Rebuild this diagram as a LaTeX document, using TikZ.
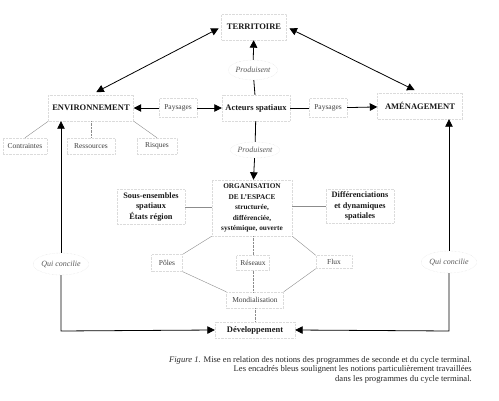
\documentclass[tikz,border=0pt]{standalone}
\usepackage{fontspec}
\setmainfont{Liberation Serif}
\usetikzlibrary{arrows.meta,shapes.geometric}

\begin{document}
\begin{tikzpicture}[x=1pt,y=-1pt,font=\fontsize{8.5}{10.5}\selectfont,
 cadre/.style={draw=black!14,densely dotted,inner sep=1pt,font=\fontsize{8.5}{10.5}\selectfont\bfseries,text=black!90},
 petit/.style={draw=black!14,densely dotted,inner sep=1pt,font=\fontsize{7.5}{9}\selectfont,text=black!75},
 bulle/.style={ellipse,draw=black!14,densely dotted,inner sep=0pt,font=\fontsize{8}{9}\selectfont\itshape,text=black!65},
 fleche/.style={line width=.8pt,-{Triangle[length=7.5pt,width=7.5pt]}},
 dfleche/.style={line width=.8pt,{Triangle[length=7.5pt,width=7.5pt]}-{Triangle[length=7.5pt,width=7.5pt]}},
 trait/.style={line width=.8pt},
 fin/.style={black!45,line width=.4pt}]
 \useasboundingbox (0,0) rectangle (499,401);
 % notions principales
 \node[cadre,minimum width=65,minimum height=26] (terr) at (254,27) {TERRITOIRE};
 \node[cadre,minimum width=68,minimum height=26] (act) at (256,108) {Acteurs spatiaux};
 \node[cadre,minimum width=85,minimum height=26] (env) at (91,108) {ENVIRONNEMENT};
 \node[cadre,minimum width=85,minimum height=26] (amen) at (420,106) {AMÉNAGEMENT};
 \node[cadre,minimum width=80,minimum height=56,align=center,font=\fontsize{7.3}{10.5}\selectfont\bfseries] (org) at (252,208)
  {ORGANISATION\\DE L’ESPACE\\structurée,\\différenciée,\\systémique, ouverte};
 \node[cadre,minimum width=68,minimum height=35,align=center,font=\fontsize{8.3}{10.5}\selectfont\bfseries] (sous) at (151,207) {Sous-ensembles\\spatiaux\\États région};
 \node[cadre,minimum width=68,minimum height=34,align=center,font=\fontsize{8.3}{10.5}\selectfont\bfseries] (diff) at (360,206) {Différenciations\\et dynamiques\\spatiales};
 \node[cadre,minimum width=80,minimum height=16] (dev) at (255,330) {Développement};
 % notions secondaires
 \node[petit,minimum width=38,minimum height=19] (pay1) at (178,108) {Paysages};
 \node[petit,minimum width=38,minimum height=19] (pay2) at (328,108) {Paysages};
 \node[petit,minimum width=44,minimum height=16] (contr) at (25,146) {Contraintes};
 \node[petit,minimum width=48,minimum height=16] (ress) at (91,146) {Ressources};
 \node[petit,minimum width=40,minimum height=16] (risq) at (157,146) {Risques};
 \node[petit,minimum width=31,minimum height=17] (pol) at (167,263) {Pôles};
 \node[petit,minimum width=33,minimum height=15] (res) at (253,263) {Réseaux};
 \node[petit,minimum width=36,minimum height=13] (flux) at (334,262) {Flux};
 \node[petit,minimum width=57,minimum height=16] (mon) at (255,300) {Mondialisation};
 \node[bulle,minimum width=48,minimum height=20] (prod1) at (253,70) {Produisent};
 \node[bulle,minimum width=46,minimum height=16] (prod2) at (255,150) {Produisent};
 \node[bulle,minimum width=46,minimum height=22] (qui1) at (61,264) {Qui concilie};
 \node[bulle,minimum width=48,minimum height=22] (qui2) at (449,262) {Qui concilie};
 \coordinate (coinG) at (61,331); \coordinate (coinD) at (449,331);
 % liens
 \draw[dfleche,shorten <=3pt,shorten >=6pt] (terr.west) -- (env.north);
 \draw[dfleche,shorten <=3pt,shorten >=6pt] (terr.east) -- (amen.north);
 \draw[fleche] (prod1) -- (terr); \draw[trait] (act) -- (prod1);
 \draw[trait] (act) -- (prod2); \draw[fleche] (prod2) -- (org);
 \draw[fleche] (pay1) -- (env); \draw[fleche] (pay1) -- (act);
 \draw[trait] (act) -- (pay2); \draw[fleche] (pay2) -- (amen);
 \draw[fin] (env.south west) -- (contr.north); \draw[fin,densely dotted] (env.south) -- (ress.north); \draw[fin] (env.south east) -- (risq.north);
 \draw[fleche] (qui1) -- (qui1 |- env.south); \draw[fleche] (qui1) -- (coinG) -- (dev.west);
 \draw[fleche] (qui2) -- (qui2 |- amen.south); \draw[fleche] (qui2) -- (coinD) -- (dev.east);
 \draw[fin,line width=.6pt] (sous.east) -- (sous.east -| org.west); \draw[fin,line width=.6pt] (diff.west) -- (diff.west -| org.east);
 \draw[fin] (org.south west) -- (pol.north east); \draw[fin] (pol.south east) -- (mon.north west);
 \draw[fin,densely dotted] (org.south -| res.north) -- (res.north); \draw[fin,densely dotted] (res.south) -- (res.south |- mon.north);
 \draw[fin] (org.south east) -- (flux.north west); \draw[fin] (flux.south west) -- (mon.north east);
 \draw[fin,densely dotted] (mon.south) -- (dev.north);
 % legende
 \node[anchor=north east,align=right,inner sep=0pt,font=\fontsize{8.6}{9.8}\selectfont,text=black!85] (leg) at (472,356)
  {\textit{Figure 1.} Mise en relation des notions des programmes de seconde et du cycle terminal.\\
   Les encadrés bleus soulignent les notions particulièrement travaillées\\
   dans les programmes du cycle terminal.};
\end{tikzpicture}
\end{document}
